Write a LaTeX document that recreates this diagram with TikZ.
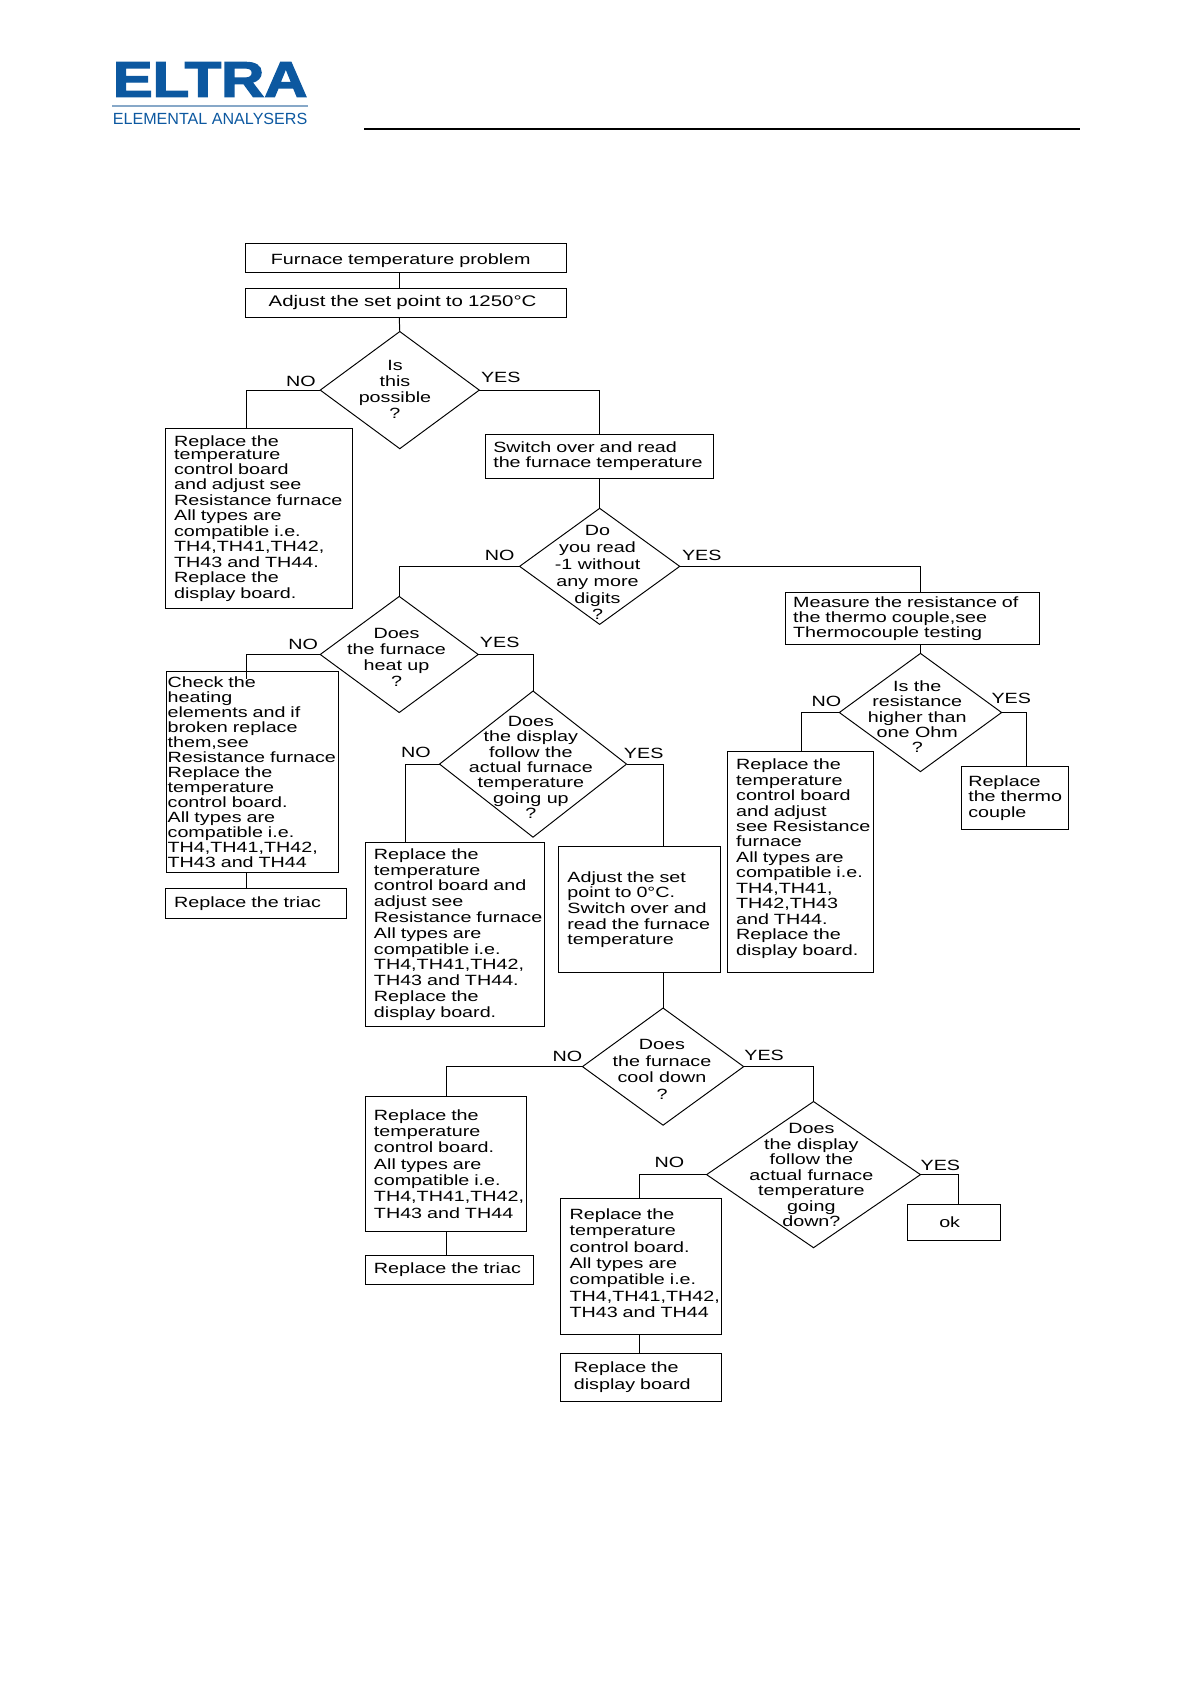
\documentclass[tikz,border=0pt]{standalone}
\usepackage{fontspec}
\usepackage{graphicx}
\setmainfont{Liberation Sans}[FakeStretch=1.33]
\newfontfamily\logofont{Liberation Sans}[BoldFeatures={FakeBold=2.5}]
\usetikzlibrary{shapes.geometric}
\definecolor{logoblue}{RGB}{12,88,160}
\definecolor{logorule}{RGB}{135,168,200}
\tikzset{
    lead/.style={font=\fontsize{13.8}{#1}\selectfont},
    box/.style n args={3}{draw,rectangle,anchor=north west,inner sep=0pt,outer sep=0pt,
        text width=#1pt,minimum height=#2pt,align=left,lead=14.5,
        execute at begin node={\leftskip=#3pt\relax}},
    ask/.style 2 args={draw,diamond,inner sep=0pt,outer sep=0pt,minimum width=#1pt,minimum height=#2pt},
    asktext/.style={align=center,inner sep=0pt,lead=15},
    answer/.style={inner sep=0pt,font=\fontsize{13.8}{15}\selectfont},
    link/.style={line width=0.9pt}
}
\begin{document}
\begin{tikzpicture}[x=1pt,y=-1pt,line width=0.9pt]
    \useasboundingbox (0,0) rectangle (1108.3,1567);

    \node[inner sep=0pt,text=logoblue] (logo) at (195.5,74)
        {\resizebox{181pt}{32pt}{\logofont\bfseries ELTRA}};
    \node[inner sep=0pt,text=logoblue] (logosub) at (195.5,110.8)
        {\resizebox{181pt}{10.5pt}{\logofont ELEMENTAL ANALYSERS}};
    \draw[logorule,line width=2pt] ([yshift=-8.4pt]logo.south west)--([yshift=-8.4pt]logo.south east);
    \coordinate (headl) at (339,120);
    \coordinate (headr) at (1005,120);
    \draw[line width=1.4pt](headl)--(headr);

    \node[box={299}{27}{24}] (problem) at (228,227) {\rule{0pt}{15pt}Furnace temperature problem};
    \node[box={299}{27}{22},font=\fontsize{14.3}{15}\selectfont] (setpoint) at (228,268) {Adjust the set point to 1250°C};
    \node[ask={148}{109}] (possible) at (372,363) {};
    \node[asktext] (possibletext) at (367.5,362.5) {Is\\this\\possible\\?};
    \node[answer] (no1) at (280,355) {NO};
    \node[answer] (yes1) at (466,351) {YES};

    \node[box={174}{167}{8},lead=14.4] (board1) at (154,399) {Replace the\\[-2pt]temperature\\[-1pt]control board\\and adjust see\\Resistance furnace\\All types are\\compatible i.e.\\TH4,TH41,TH42,\\TH43 and TH44.\\Replace the\\display board.};
    \node[box={212}{41}{7}] (switchover) at (452,404) {Switch over and read\\the furnace temperature};
    \node[ask={149}{108}] (read) at (558,527) {};
    \node[asktext,lead=15.6] (readtext) at (556,533) {Do\\you read\\-1 without\\any more\\digits\\?};
    \node[answer] (no2) at (465,517) {NO};
    \node[answer] (yes2) at (653,517) {YES};

    \node[ask={147}{108}] (heat) at (371.5,609) {};
    \node[asktext] (heattext) at (369,611.5) {Does\\the furnace\\heat up\\?};
    \node[answer] (no3) at (282,600) {NO};
    \node[answer] (yes3) at (465,598) {YES};
    \node[box={160}{187}{1},lead=13.9] (heating) at (155,625) {Check the\\heating\\elements and if\\broken replace\\them,see\\Resistance furnace\\Replace the\\temperature\\control board.\\All types are\\compatible i.e.\\TH4,TH41,TH42,\\TH43 and TH44};
    \node[box={168}{28}{8}] (triac1) at (154,827) {Replace the triac};

    \node[ask={174}{136}] (displayup) at (496,711) {};
    \node[asktext,lead=14.3] (displayuptext) at (494,714) {Does\\the display\\follow the\\actual furnace\\temperature\\going up\\?};
    \node[answer] (no4) at (387,700) {NO};
    \node[answer] (yes4) at (599,701) {YES};
    \node[box={167}{171}{8},lead=14.7] (board2) at (340,784) {Replace the\\temperature\\control board and\\adjust see\\Resistance furnace\\All types are\\compatible i.e.\\TH4,TH41,TH42,\\TH43 and TH44.\\Replace the\\display board.};
    \node[box={150}{117}{8}] (zero) at (520,788) {Adjust the set\\point to 0°C.\\Switch over and\\read the furnace\\temperature};

    \node[ask={150}{109}] (cool) at (617,992.5) {};
    \node[asktext,lead=15.3] (cooltext) at (616,995) {Does\\the furnace\\cool down\\?};
    \node[answer] (no5) at (528,983) {NO};
    \node[answer] (yes5) at (711,982) {YES};
    \node[box={150}{126}{8},lead=15.2] (board3) at (340,1020) {Replace the\\temperature\\control board.\\All types are\\compatible i.e.\\TH4,TH41,TH42,\\TH43 and TH44};
    \node[box={156}{27}{8}] (triac2) at (340,1168) {Replace the triac};

    \node[ask={199}{136}] (displaydown) at (757,1093) {};
    \node[asktext,lead=14.4] (displaydowntext) at (755,1093.5) {Does\\the display\\follow the\\actual furnace\\temperature\\going\\down?};
    \node[answer] (no6) at (623,1082) {NO};
    \node[answer] (yes6) at (875,1084) {YES};
    \node[box={149}{127}{8},lead=15.2] (board4) at (522,1115) {Replace the\\temperature\\control board.\\All types are\\compatible i.e.\\TH4,TH41,TH42,\\TH43 and TH44\rule[-6pt]{0pt}{6pt}};
    \node[box={149}{45}{12},lead=15] (board5) at (522,1259) {Replace the\\display board};
    \node[box={87}{33}{30}] (ok) at (844,1121) {ok};

    \node[box={236}{49}{7},lead=14] (measure) at (731,551) {Measure the resistance of\\the thermo couple,see\\Thermocouple testing};
    \node[ask={151}{110}] (ohm) at (856.5,663) {};
    \node[asktext,lead=14.3] (ohmtext) at (853.5,667) {Is the\\resistance\\higher than\\one Ohm\\?};
    \node[answer] (no7) at (769,653) {NO};
    \node[answer] (yes7) at (941,650) {YES};
    \node[box={136}{206}{8},lead=14.4] (board6) at (677,699) {Replace the\\temperature\\control board\\and adjust\\see Resistance\\furnace\\All types are\\compatible i.e.\\TH4,TH41,\\TH42,TH43\\and TH44.\\Replace the\\display board.\rule[-9pt]{0pt}{9pt}};
    \node[box={99}{59}{6}] (thermo) at (895,713) {Replace\\the thermo\\couple};

    \draw[link]([xshift=-6pt]problem.south)--([xshift=-6pt]setpoint.north);
    \draw[link]([xshift=-6pt]setpoint.south)--(possible.north);
    \draw[link](possible.west)-|([xshift=-12pt]board1.north);
    \draw[link](possible.east)-|(switchover.north);
    \draw[link](switchover.south)--(read.north);
    \draw[link](read.west)-|(heat.north);
    \draw[link](read.east)-|([xshift=7.5pt]measure.north);
    \draw[link](heat.west)-|([xshift=-6pt,yshift=-7pt]heating.north);
    \draw[link](heat.east)-|(displayup.north);
    \draw[link]([xshift=-6pt]heating.south)--([xshift=-9pt]triac1.north);
    \draw[link](displayup.west)-|([xshift=-46pt]board2.north);
    \draw[link](displayup.east)-|([xshift=22pt]zero.north);
    \draw[link]([xshift=22pt]zero.south)--(cool.north);
    \draw[link](cool.west)-|(board3.north);
    \draw[link](cool.east)-|(displaydown.north);
    \draw[link](board3.south)--([xshift=-3pt]triac2.north);
    \draw[link](displaydown.west)-|([xshift=-1pt]board4.north);
    \draw[link](displaydown.east)-|([xshift=4pt]ok.north);
    \draw[link]([xshift=-1pt]board4.south)--([xshift=-1pt]board5.north);
    \draw[link](measure.south -| ohm.north)--(ohm.north);
    \draw[link](ohm.west)-|([xshift=1pt]board6.north);
    \draw[link](ohm.east)-|([xshift=11pt]thermo.north);
\end{tikzpicture}
\end{document}
